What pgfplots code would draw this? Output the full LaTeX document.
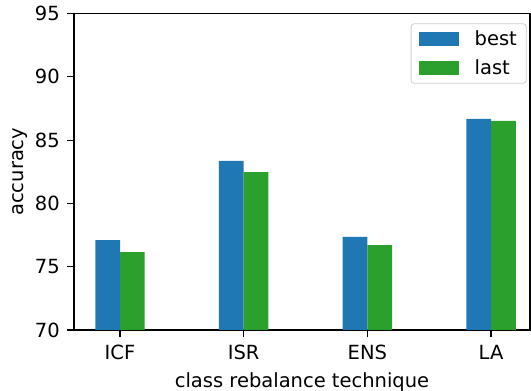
\documentclass[border=0pt]{standalone}
\usepackage{fontspec}
\setmainfont{DejaVu Sans}
\usepackage{pgfplots}
\pgfplotsset{compat=1.18}
\definecolor{tabblue}{HTML}{1F77B4}
\definecolor{tabgreen}{HTML}{2CA02C}
\newcommand\fs{\fontsize{19.5}{23.4}\selectfont}
\begin{document}
\begin{tikzpicture}
\begin{axis}[
  at={(0pt,0pt)}, anchor=south west,
  scale only axis, width=456pt, height=316.5pt,
  xmin=-0.372, xmax=3.315, ymin=70, ymax=95,
  xtick={0,1,2,3}, xticklabels={ICF,ISR,ENS,LA},
  ytick={70,75,80,85,90,95},
  xtick pos=bottom, ytick pos=left,
  tick align=outside, major tick length=7pt,
  every tick/.style={black, line width=1.1pt},
  axis line style={black, line width=1.1pt},
  tick label style={font=\fs},
  /pgf/number format/assume math mode=true,
  xticklabel style={inner sep=0pt, anchor=north, yshift=-8pt},
  yticklabel style={inner sep=0pt, anchor=east, xshift=-7pt},
  xlabel={class rebalance technique}, ylabel={accuracy},
  every axis x label/.style={at={(axis description cs:0.5,-0.1349)}, anchor=north, inner sep=0pt, font=\fs},
  every axis y label/.style={at={(axis description cs:-0.136,0.5)}, rotate=90, anchor=north, inner sep=0pt, font=\fs},
  ybar, bar width=0.2,
  legend style={at={(0.9928,0.969)}, anchor=north east, font=\fs,
    draw=black!20, line width=0.8pt, rounded corners=3pt, fill=white, fill opacity=0.8, text opacity=1,
    inner xsep=7.5pt, inner ysep=5pt, row sep=9pt, column sep=0pt,
    nodes={inner sep=2pt}},
  legend cell align=left,
  legend image code/.code={\fill[#1, fill opacity=1, sharp corners] (0pt,-6.7pt) rectangle (40pt,6.7pt);},
]
\addplot[fill=tabblue, draw=none, bar shift=-0.1] coordinates {(0,77.1) (1,83.35) (2,77.35) (3,86.67)};
\addlegendentry{\hspace{14pt}best}
\addplot[fill=tabgreen, draw=none, bar shift=0.1] coordinates {(0,76.16) (1,82.48) (2,76.71) (3,86.51)};
\addlegendentry{\hspace{14pt}last}
\end{axis}
\pgfresetboundingbox
\path (-74pt,-61pt) rectangle (457pt,330pt);
\end{tikzpicture}
\end{document}
